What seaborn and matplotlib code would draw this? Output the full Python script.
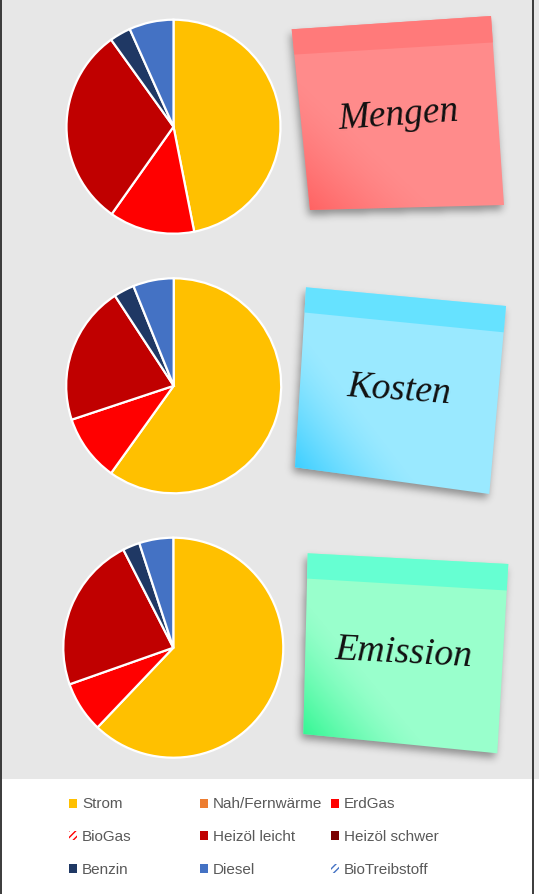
import numpy as np
import matplotlib
matplotlib.use("Agg")
import matplotlib.pyplot as plt
from matplotlib.patches import Polygon, Rectangle, Patch
from matplotlib.path import Path
import seaborn as sns

# ---- data -------------------------------------------------------------
categories = ["Strom", "Nah/Fernwärme", "ErdGas", "BioGas", "Heizöl leicht",
              "Heizöl schwer", "Benzin", "Diesel", "BioTreibstoff"]
mengen = [46.9, 0, 12.9, 0, 30.3, 0, 3.2, 6.7, 0]
kosten = [59.9, 0, 10.0, 0, 20.9, 0, 3.1, 6.1, 0]
emission = [62.1, 0, 7.5, 0, 22.9, 0, 2.5, 5.0, 0]
titles = ["Mengen", "Kosten", "Emission"]

# ---- styling ----------------------------------------------------------
sns.set_theme(style="white")
plt.rcParams["font.family"] = ["DejaVu Sans"]
palette = sns.color_palette(["#FFC000", "#ED7D31", "#FF0000", "#FF0000", "#C00000",
                             "#7B0000", "#1F3864", "#4472C4", "#4472C4"])
hatched = [False, False, False, True, False, False, False, False, True]

W, H, DPI = 539, 894, 100
fig = plt.figure(figsize=(W / DPI, H / DPI), dpi=DPI)
fig.patch.set_facecolor("white")

# full-figure canvas in pixel units for the backdrop and the notes
bg = fig.add_axes([0, 0, 1, 1])
bg.set_xlim(0, W)
bg.set_ylim(H, 0)
bg.axis("off")
bg.set_zorder(0)
bg.add_patch(Rectangle((0, 0), W, 779, facecolor="#E7E7E7", edgecolor="none", zorder=0))
bg.plot([0.8, 0.8], [0, H], color="#3A3A3A", lw=1.4, zorder=5)
bg.plot([532.5, 532.5], [0, H], color="#3A3A3A", lw=1.4, zorder=5)


def blur(a, s):
    x = np.arange(-3 * s, 3 * s + 1)
    k = np.exp(-0.5 * (x / s) ** 2)
    k /= k.sum()
    a = np.apply_along_axis(lambda m: np.convolve(m, k, mode="same"), 0, a)
    a = np.apply_along_axis(lambda m: np.convolve(m, k, mode="same"), 1, a)
    return a


def sticky_note(corners, body, head, deep, label, anchor, rot):
    c = np.array(corners, dtype=float)
    tl, tr, br, bl = c
    x0, x1 = c[:, 0].min() - 25, c[:, 0].max() + 25
    y0, y1 = c[:, 1].min() - 25, c[:, 1].max() + 25
    xs = np.arange(x0, x1) + 0.5
    ys = np.arange(y0, y1) + 0.5
    gx, gy = np.meshgrid(xs, ys)
    pts = np.column_stack([gx.ravel(), gy.ravel()])

    # soft drop shadow
    sh = c + np.array([-2.0, 5.0])
    mask = Path(sh).contains_points(pts).reshape(gx.shape).astype(float)
    mask = blur(mask, 4)
    rgba = np.zeros(gx.shape + (4,))
    rgba[..., 3] = mask * 0.38
    bg.imshow(rgba, extent=(x0, x1, y1, y0), origin="upper", zorder=1,
              interpolation="bilinear")

    poly = Polygon(c, closed=True, facecolor=body, edgecolor="none", zorder=2)
    bg.add_patch(poly)

    # darker adhesive strip along the top
    f = 0.14
    band = np.array([tl, tr, tr + f * (br - tr), tl + f * (bl - tl)])
    bg.add_patch(Polygon(band, closed=True, facecolor=head, edgecolor="none", zorder=3))

    # deeper tint fading out from the lower-left corner
    u = tr - bl
    diag = np.linalg.norm(u)
    u /= diag
    d = (pts - bl) @ u
    a = np.clip(1 - d / (0.33 * diag), 0, 1) ** 1.4
    g = np.zeros(gx.shape + (4,))
    g[..., :3] = matplotlib.colors.to_rgb(deep)
    g[..., 3] = a.reshape(gx.shape) * 0.85
    im = bg.imshow(g, extent=(x0, x1, y1, y0), origin="upper", zorder=3,
                   interpolation="bilinear")
    im.set_clip_path(poly)

    bg.text(anchor[0], anchor[1], label, fontsize=27, color="#111111",
            family=["Liberation Serif", "DejaVu Serif"], style="italic",
            ha="center", va="baseline", rotation=rot, rotation_mode="anchor", zorder=4)


notes = [
    ([(291.7, 29.3), (491, 16), (504, 205), (310, 210)],
     "#FF8B8B", "#FF7A7A", "#FF5C5C", (399, 125), 4),
    ([(306, 287.3), (506, 306), (489.3, 494), (295, 467.3)],
     "#9AE9FF", "#66E2FF", "#2CCBFF", (398, 399.5), -4),
    ([(307.7, 553.3), (508.3, 564), (497.3, 753.3), (303.3, 734)],
     "#99FFCC", "#66FFD2", "#22F58A", (403.5, 663), -3),
]
for (corners, body, head, deep, anchor, rot), title in zip(notes, titles):
    sticky_note(corners, body, head, deep, title, anchor, rot)

# ---- pies -------------------------------------------------------------
pie_spots = [(173.5, 126.7, 107.0), (173.7, 385.8, 107.5), (173.3, 647.7, 110.0)]
pad = 4
for values, (cx, cy, r) in zip([mengen, kosten, emission], pie_spots):
    R = r + pad
    ax = fig.add_axes([(cx - R) / W, 1 - (cy + R) / H, 2 * R / W, 2 * R / H])
    ax.set_zorder(2)
    ax.patch.set_alpha(0)
    vals = np.array(values, dtype=float)
    keep = vals > 0
    cols = [palette[i] for i in range(len(vals)) if keep[i]]
    ax.pie(vals[keep], colors=cols, startangle=90, counterclock=False, radius=1,
           wedgeprops=dict(edgecolor="white", linewidth=1.6))
    lim = R / r
    ax.set_xlim(-lim, lim)
    ax.set_ylim(-lim, lim)
    ax.set_aspect("equal")
    ax.axis("off")

# ---- legend (three columns) ------------------------------------------
def handle(i):
    if hatched[i]:
        return Patch(facecolor="white", edgecolor=palette[i], hatch="/////",
                     linewidth=0, label=categories[i])
    return Patch(facecolor=palette[i], edgecolor="none", label=categories[i])


col_x = [69, 200, 331]
for k, x in enumerate(col_x):
    hs = [handle(i) for i in (k, k + 3, k + 6)]
    fig.legend(handles=hs, loc="upper left", bbox_to_anchor=(x / W, 1 - 797.5 / H),
               frameon=False, borderpad=0, borderaxespad=0, handlelength=0.53,
               handleheight=0.53, handletextpad=0.33, labelspacing=1.22,
               labelcolor="#595959",
               prop=dict(family=["Liberation Sans", "DejaVu Sans"], size=11))

fig.savefig("out.png", dpi=DPI, facecolor=fig.get_facecolor())
